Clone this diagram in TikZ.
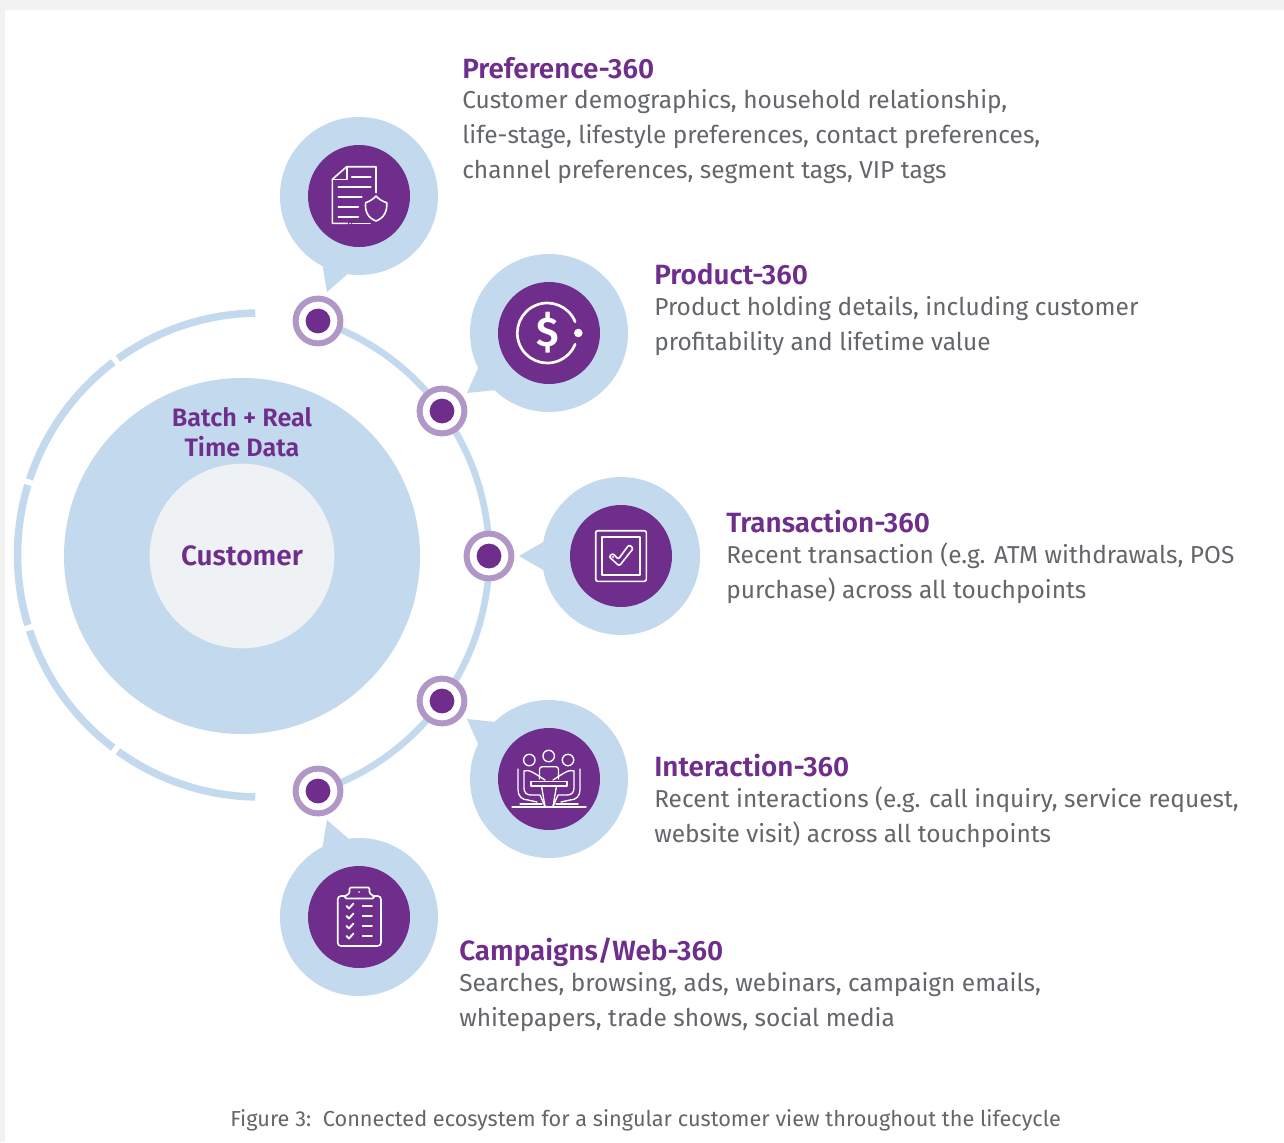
\documentclass[tikz,border=0pt]{standalone}
\usepackage{fontspec}
\setmainfont{Fira Sans}
\newfontfamily\headfam{Fira Sans SemiBold}
\definecolor{bubble}{HTML}{C2D9EE}
\definecolor{plum}{HTML}{6F2E8B}
\definecolor{lilac}{HTML}{B097C6}
\definecolor{bodygrey}{HTML}{63666A}
\definecolor{coreg}{HTML}{EFF2F4}
\definecolor{pagegrey}{HTML}{F2F2F2}
\newcommand{\bodyfont}{\fontsize{18.35}{25.9}\selectfont}
\newcommand{\headfont}{\headfam\fontsize{20.9}{24}\selectfont}
\tikzset{
  x=0.75pt,y=-0.75pt,
  ringarc/.style={draw=bubble,line width=5pt},
  leftarc/.style={draw=bubble,line width=5.6pt},
  stopring/.style={circle,draw=lilac,fill=white,line width=4.5pt,minimum size=33.6pt,inner sep=0pt},
  stopdot/.style={circle,fill=plum,minimum size=18.6pt,inner sep=0pt},
  bubbledisc/.style={circle,fill=bubble,minimum size=118.5pt,inner sep=0pt},
  icondisc/.style={circle,fill=plum,minimum size=76.5pt,inner sep=0pt},
  icon/.style={draw=white,line width=1.2pt,line cap=round,line join=round},
  head/.style={anchor=base west,inner sep=0pt,text=plum,font=\headfont},
  bodytext/.style={anchor=base west,inner sep=0pt,text=bodygrey,font=\bodyfont,align=left},
  centrelabel/.style={inner sep=0pt,text=plum,align=center,anchor=base},
}
\begin{document}
\begin{tikzpicture}
\useasboundingbox (0,0) rectangle (1284,1142);
\fill[pagegrey] (0,0) rectangle (1284,1142);
\fill[white] (5,10) rectangle (1284,1142);

% core
\node[circle,fill=bubble,minimum size=267pt,inner sep=0pt] (data) at (242,556) {};
\node[circle,fill=coreg,minimum size=138.5pt,inner sep=0pt] (core) at (242,556) {};
\node[centrelabel,font=\headfam\fontsize{18.9}{21.8}\selectfont] (batch) at (242,456) {Batch + Real\\Time Data};
\node[centrelabel,font=\headfam\fontsize{21}{24}\selectfont] (cust) at (242,565) {Customer};

% left broken ring
\coordinate (lc) at (259.5,555);
\foreach \a/\b in {91/125.8,127.2/161.8,163.2/196.8,198.2/232.8,234.2/269}{
  \draw[leftarc] ([shift={(\a:181.5pt)}]lc) arc[start angle=\a,end angle=\b,radius=181.5pt];
}

% stops
\coordinate (s1) at (318,321);
\coordinate (s2) at (442,411);
\coordinate (s3) at (489,556);
\coordinate (s4) at (442,701);
\coordinate (s5) at (318,791);
\draw[ringarc] (s1) arc[start angle=72.1,end angle=-72.1,radius=185.25pt];

% bubbles with tails
\fill[bubble] (327,292) -- (322,262) -- (350,272) -- cycle;
\fill[bubble] (467,393) -- (479,366) -- (496,390) -- cycle;
\fill[bubble] (519,556) -- (545,541) -- (545,571) -- cycle;
\fill[bubble] (467,719) -- (479,746) -- (496,722) -- cycle;
\fill[bubble] (327,820) -- (322,850) -- (350,840) -- cycle;
\node[bubbledisc] (b1) at (359,196) {};
\node[bubbledisc] (b2) at (549,333) {};
\node[bubbledisc] (b3) at (621,556) {};
\node[bubbledisc] (b4) at (549,779) {};
\node[bubbledisc] (b5) at (359,917) {};
\node[icondisc] (i1) at (359,196) {};
\node[icondisc] (i2) at (549,333) {};
\node[icondisc] (i3) at (621,556) {};
\node[icondisc] (i4) at (549,779) {};
\node[icondisc] (i5) at (359,917) {};

\foreach \n in {1,...,5}{
  \node[stopring] (r\n) at (s\n) {};
  \node[stopdot] (d\n) at (s\n) {};
}

% icon 1: document with shield
\begin{scope}[shift={(i1.center)}]
\draw[icon] (17,-3.3) -- (17,-29.3) -- (-12.3,-29.3) -- (-26.7,-16.7) -- (-26.7,27.3) -- (-11.7,27.3);
\draw[icon] (-9,27.3) -- (-8.6,27.3);
\draw[icon] (-6.3,27.3) -- (11,27.3);
\draw[icon] (-12.3,-29.3) -- (-12.3,-16.7) -- (-26.7,-16.7);
\draw[icon] (-7.3,-19.3) -- (11.7,-19.3);
\draw[icon] (-20.7,-9.3) -- (11.7,-9.3);
\draw[icon] (-20.7,0.7) -- (2.7,0.7);
\draw[icon] (-20.7,10.7) -- (-0.7,10.7);
\draw[icon] (-20.7,20.7) -- (-0.7,20.7);
\draw[icon] (17,0) .. controls (20,3.5) and (24,5.5) .. (27.7,6.7) .. controls (28.5,15) and (25,22) .. (17,25) .. controls (9,22) and (5.5,15) .. (6.7,6.7) .. controls (10,5.5) and (14,3.5) .. (17,0) -- cycle;
\end{scope}

% icon 2: dollar
\begin{scope}[shift={(i2.center)}]
\coordinate (dc) at (-1.7,0);
\draw[icon,line width=2pt] ([shift={(22:22.5pt)}]dc) arc[start angle=22,end angle=338,radius=22.5pt];
\fill[white] (29.3,0) circle[radius=3.2pt];
\node[text=white,inner sep=0pt,font=\headfam\fontsize{31}{31}\selectfont] (dollar) at (-1.2,0) {\$};
\end{scope}

% icon 3: checked box
\begin{scope}[shift={(i3.center)}]
\draw[icon,rounded corners=1.5pt] (-25.3,-25.3) rectangle (25.3,25.3);
\draw[icon] (-19,-19) rectangle (19,19);
\draw[icon,rounded corners=1.5pt] (-12,0.7) -- (-8.3,-2.7) -- (-2.7,3.3) -- (8,-11.3) -- (12.3,-7.7) -- (-1.7,10) -- cycle;
\fill[white] (-8,1) circle[radius=0.8pt];
\end{scope}

% icon 4: people at a table
\begin{scope}[shift={(i4.center)},every path/.append style={icon,line width=1pt}]
\draw (-19.7,-19) circle[radius=4.3pt];
\draw (-0.3,-23) circle[radius=4.3pt];
\draw (19,-19) circle[radius=4.3pt];
\draw[rounded corners=2pt] (-9.5,0) -- (-9.5,-12.3) -- (9.5,-12.3) -- (9.5,0);
\draw (-18,2.5) -- (18,2.5);
\draw (-18,2.5) -- (-18,7) -- (18,7) -- (18,2.5);
\draw (-7.5,7) -- (-4,27.5);
\draw (7.5,7) -- (4,27.5);
\draw (-31,-10) -- (-31,11) .. controls (-31,17) and (-27,21) .. (-21,21) -- (-12,23);
\draw (31,-10) -- (31,11) .. controls (31,17) and (27,21) .. (21,21) -- (12,23);
\draw (-25,-8) .. controls (-20,-10) and (-15,-6) .. (-4,1);
\draw (25,-8) .. controls (20,-10) and (15,-6) .. (4,1);
\draw (-25,-8) -- (-25,9) .. controls (-25,14) and (-22,16) .. (-18,16) -- (-9,16) -- (-4,27.5);
\draw (25,-8) -- (25,9) .. controls (25,14) and (22,16) .. (18,16) -- (9,16) -- (4,27.5);
\draw (-29,25) -- (-7,25);
\draw (7,25) -- (29,25);
\draw (-37,28) -- (37,28);
\end{scope}

% icon 5: clipboard
\begin{scope}[shift={(i5.center)}]
\draw[icon,rounded corners=2.5pt] (-14,-21) -- (-21.3,-21) -- (-21.3,29) -- (22,29) -- (22,-21) -- (14,-21);
\draw[icon,rounded corners=1pt] (-14,-18.5) -- (-14,-21) -- (-9.5,-23.5) -- (-9.5,-29.5) -- (10.5,-29.5) -- (10.5,-23.5) -- (15,-21) -- (15,-18.5) -- cycle;
\fill[white] (0,-25) circle[radius=.7pt];
\foreach \yy in {-11,-1,9,19}{
  \draw[icon,line width=1.4pt] (-12.5,\yy) -- (-10,\yy+2.5) -- (-5.5,\yy-2.5);
  \draw[icon,line width=1.4pt] (3.7,\yy) -- (13,\yy);
}
\end{scope}

% labels
\node[head] (h1) at (462,78.5) {Preference-360};
\node[bodytext] (t1) at (462,178) {Customer demographics, household relationship,\\life-stage, lifestyle preferences, contact preferences,\\channel preferences, segment tags, VIP tags};
\node[head] (h2) at (654,284.5) {Product-360};
\node[bodytext] (t2) at (654,350) {Product holding details, including customer\\profitability and lifetime value};
\node[head] (h3) at (726,532.5) {Transaction-360};
\node[bodytext] (t3) at (726,598) {Recent transaction (e.g. ATM withdrawals, POS\\purchase) across all touchpoints};
\node[head] (h4) at (654,776.5) {Interaction-360};
\node[bodytext] (t4) at (654,842) {Recent interactions (e.g. call inquiry, service request,\\website visit) across all touchpoints};
\node[head] (h5) at (459,960.5) {Campaigns/Web-360};
\node[bodytext] (t5) at (459,1026) {Searches, browsing, ads, webinars, campaign emails,\\whitepapers, trade shows, social media};
\node[anchor=base west,inner sep=0pt,text=bodygrey,font=\fontsize{16.28}{20}\selectfont] (cap) at (230,1126) {Figure 3:\ \ Connected ecosystem for a singular customer view throughout the lifecycle};
\end{tikzpicture}
\end{document}
